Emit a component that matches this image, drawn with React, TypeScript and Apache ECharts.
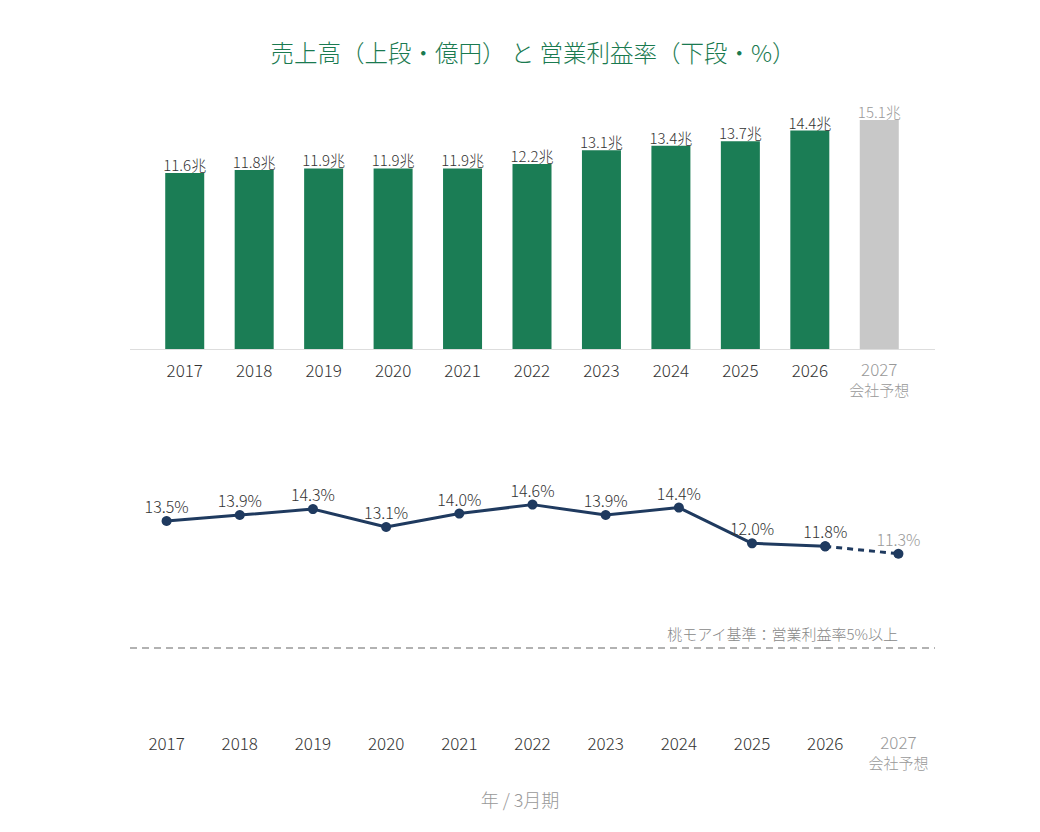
import React, { useEffect, useRef } from "react";
import * as echarts from "echarts";

// Fiscal years (March year-end); the last one is the company forecast
const years = ["2017", "2018", "2019", "2020", "2021", "2022", "2023", "2024", "2025", "2026", "2027"];
const forecastNote = "会社予想";
// Net sales, trillion yen
const sales = [11.6, 11.8, 11.9, 11.9, 11.9, 12.2, 13.1, 13.4, 13.7, 14.4, 15.1];
// Operating margin, %
const margin = [13.5, 13.9, 14.3, 13.1, 14.0, 14.6, 13.9, 14.4, 12.0, 11.8, 11.3];
// Benchmark operating margin, %
const threshold = 5;

const FONT = "'Noto Sans CJK JP', 'Noto Sans', sans-serif";
const W = 300;
const GREEN = "#1b7d55";
const GREY_BAR = "#c8c8c8";
const NAVY = "#1f3a5f";
const TEXT = "#333333";
const MUTED = "#999999";

export default function App() {
  const ref = useRef<HTMLDivElement>(null);

  useEffect(() => {
    document.body.style.margin = "0";
    if (!ref.current) return;
    const chart = echarts.init(ref.current, null, { renderer: "svg" });
    const last = years.length - 1;

    const solid = margin.map((v, i) => (i < last ? v : null));
    const dashed = margin.map((v, i) => (i >= last - 1 ? v : null));

    // Year tick labels; the forecast year gets a muted second line
    const axisLabel = {
      interval: 0,
      margin: 10,
      fontFamily: FONT,
      formatter: (v: string) => (v === years[last] ? `{f|${v}}\n{n|${forecastNote}}` : `{y|${v}}`),
      rich: {
        y: { fontSize: 17, fontWeight: W, color: TEXT, lineHeight: 20, fontFamily: FONT },
        f: { fontSize: 17, fontWeight: W, color: MUTED, lineHeight: 19, fontFamily: FONT },
        n: { fontSize: 15, fontWeight: W, color: MUTED, lineHeight: 22, fontFamily: FONT },
      },
    };

    chart.setOption({
      animation: false,
      textStyle: { fontFamily: FONT },
      title: {
        text: "売上高（上段・億円） と 営業利益率（下段・%）",
        left: 528,
        textAlign: "center",
        top: 35,
        textStyle: { color: "#1a7a50", fontSize: 23.5, fontWeight: W, fontFamily: FONT },
      },
      grid: [
        { left: 150, right: 126, top: 106.3, height: 242.7 },
        { left: 130, right: 105, top: 454, height: 268 },
      ],
      xAxis: [
        {
          type: "category",
          gridIndex: 0,
          data: years,
          axisLine: { show: false },
          axisTick: { show: false },
          axisLabel,
        },
        {
          type: "category",
          gridIndex: 1,
          data: years,
          axisLine: { show: false },
          axisTick: { show: false },
          axisLabel,
        },
      ],
      yAxis: [
        { type: "value", gridIndex: 0, min: 0, max: 16, show: false },
        { type: "value", gridIndex: 1, min: 0, max: 18, show: false },
      ],
      graphic: [
        {
          type: "line",
          shape: { x1: 130, y1: 349.5, x2: 935, y2: 349.5 },
          style: { stroke: "#dddddd", lineWidth: 1 },
        },
        {
          type: "text",
          left: "center",
          top: 790,
          style: { text: "年 / 3月期", fill: MUTED, fontSize: 18, fontWeight: W, fontFamily: FONT },
        },
      ],
      series: [
        {
          type: "bar",
          xAxisIndex: 0,
          yAxisIndex: 0,
          barWidth: 39,
          data: sales.map((v, i) => ({
            value: v,
            itemStyle: { color: i === last ? GREY_BAR : GREEN },
            label: { color: i === last ? MUTED : TEXT },
          })),
          label: {
            show: true,
            position: "top",
            distance: 1,
            fontSize: 15,
            fontWeight: W,
            fontFamily: FONT,
            formatter: (p: any) => p.value.toFixed(1) + "兆",
          },
        },
        {
          type: "line",
          xAxisIndex: 1,
          yAxisIndex: 1,
          data: solid,
          symbol: "circle",
          symbolSize: 10,
          lineStyle: { color: NAVY, width: 3 },
          itemStyle: { color: NAVY },
          label: {
            show: true,
            position: "top",
            distance: 2,
            fontSize: 16,
            fontWeight: W,
            color: TEXT,
            fontFamily: FONT,
            formatter: (p: any) => p.value.toFixed(1) + "%",
          },
          markLine: {
            silent: true,
            symbol: "none",
            lineStyle: { color: "#999999", type: [7, 5], width: 1.5 },
            label: {
              position: "insideEndTop",
              color: "#888888",
              fontSize: 15,
              fontWeight: W,
              fontFamily: FONT,
              padding: [0, 32, 2, 0],
              formatter: () => "桃モアイ基準：営業利益率" + threshold + "%以上",
            },
            data: [{ yAxis: threshold }],
          },
        },
        {
          type: "line",
          xAxisIndex: 1,
          yAxisIndex: 1,
          data: dashed,
          symbol: "circle",
          symbolSize: 10,
          lineStyle: { color: NAVY, width: 3, type: [6, 5] },
          itemStyle: { color: NAVY },
          label: {
            show: true,
            position: "top",
            distance: 2,
            fontSize: 16,
            fontWeight: W,
            color: MUTED,
            fontFamily: FONT,
            formatter: (p: any) => (p.dataIndex === last ? p.value.toFixed(1) + "%" : ""),
          },
        },
      ],
    });

    return () => chart.dispose();
  }, []);

  return <div ref={ref} style={{ width: 1040, height: 832 }} />;
}
